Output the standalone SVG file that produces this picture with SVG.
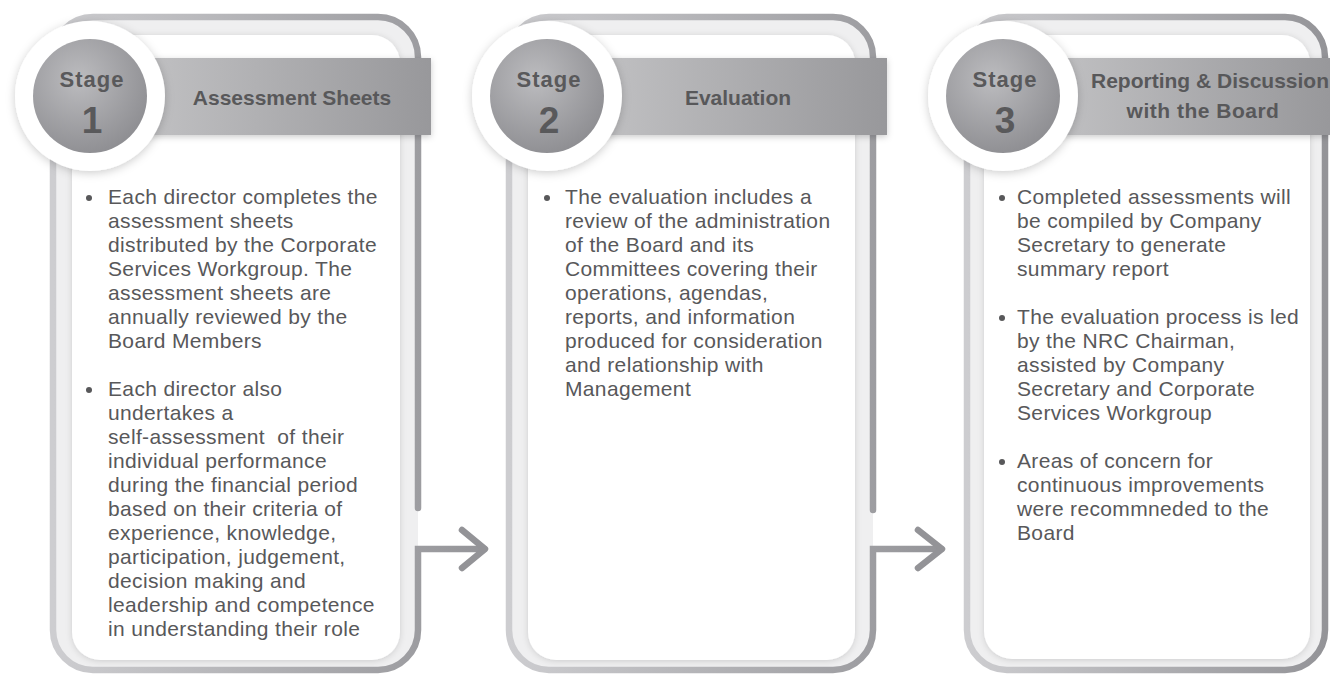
<svg xmlns="http://www.w3.org/2000/svg" width="1330" height="675" viewBox="0 0 1330 675">
  <defs>
    <linearGradient id="frameGrad" x1="0" y1="0" x2="1" y2="0">
      <stop offset="0" stop-color="#cdcdd0"/>
      <stop offset="1" stop-color="#949498"/>
    </linearGradient>
    <linearGradient id="bandGrad" x1="0" y1="0" x2="1" y2="0">
      <stop offset="0" stop-color="#c4c4c6"/>
      <stop offset="1" stop-color="#98989b"/>
    </linearGradient>
    <radialGradient id="ballGrad" cx="0.4" cy="0.35" r="0.7">
      <stop offset="0" stop-color="#bcbcbf"/>
      <stop offset="1" stop-color="#8d8d91"/>
    </radialGradient>
    <filter id="softShadow" x="-10%" y="-10%" width="120%" height="120%">
      <feDropShadow dx="0" dy="1" stdDeviation="3" flood-color="#000" flood-opacity="0.15"/>
    </filter>
    <filter id="ringShadow" x="-30%" y="-30%" width="160%" height="160%">
      <feDropShadow dx="0" dy="2" stdDeviation="5" flood-color="#000" flood-opacity="0.2"/>
    </filter>
    <filter id="bandShadow" x="-5%" y="-20%" width="110%" height="150%">
      <feDropShadow dx="0" dy="2" stdDeviation="3" flood-color="#000" flood-opacity="0.2"/>
    </filter>
  </defs>
  <style>
    .bg { fill: #efeff0; }
    .frame { fill: none; stroke: url(#frameGrad); stroke-width: 6.5; stroke-linecap: round; stroke-linejoin: miter; }
    .arrowhead { fill: none; stroke: #939397; stroke-width: 6.5; stroke-linecap: round; stroke-linejoin: round; }
    .inner { fill: #ffffff; filter: url(#softShadow); }
    .band { fill: url(#bandGrad); filter: url(#bandShadow); }
    .ring { fill: #ffffff; filter: url(#ringShadow); }
    .ball { fill: url(#ballGrad); }
    .stage { font-family: "Liberation Sans", Arial, sans-serif; font-weight: bold; font-size: 22px; fill: #59595b; text-anchor: middle; letter-spacing: 1px; }
    .num { font-family: "Liberation Sans", Arial, sans-serif; font-weight: bold; font-size: 37px; fill: #59595b; text-anchor: middle; }
    .head { font-family: "Liberation Sans", Arial, sans-serif; font-weight: bold; font-size: 21px; fill: #58585a; text-anchor: middle; }
    .body { font-family: "Liberation Sans", Arial, sans-serif; font-size: 21px; fill: #58585a; letter-spacing: 0.35px; }
    .dot { fill: #58585a; }
  </style>

  <g id="card1">
    <rect class="bg" x="53" y="17" width="365" height="653" rx="40"/>
    <rect class="inner" x="72" y="35" width="328" height="625" rx="28"/>
  </g>
  <g id="card2">
    <rect class="bg" x="509" y="17" width="364" height="653" rx="40"/>
    <rect class="inner" x="528" y="35" width="327" height="625" rx="28"/>
  </g>
  <g id="card3">
    <rect class="bg" x="967" y="17" width="358" height="653" rx="40"/>
    <rect class="inner" x="984" y="35" width="326" height="624" rx="28"/>
    <rect class="frame" x="967" y="17" width="358" height="653" rx="40"/>
  </g>

  <g id="connectors">
    <path class="frame" d="M418,508 V57 A40,40 0 0 0 378,17 H93 A40,40 0 0 0 53,57 V630 A40,40 0 0 0 93,670 H378 A40,40 0 0 0 418,630 V549 H484"/>
    <path class="arrowhead" d="M462,530 L485,549 L462,568"/>
    <path class="frame" d="M873,510 V57 A40,40 0 0 0 833,17 H549 A40,40 0 0 0 509,57 V630 A40,40 0 0 0 549,670 H833 A40,40 0 0 0 873,630 V549 H941"/>
    <path class="arrowhead" d="M918,530 L942,549 L918,568"/>
  </g>

  <g id="stage1">
    <rect class="band" x="120" y="58" width="311" height="77"/>
    <text class="head" x="292" y="105">Assessment Sheets</text>
    <circle class="ring" cx="90" cy="96" r="75"/>
    <circle class="ball" cx="90" cy="96" r="57"/>
    <text class="stage" x="92" y="87">Stage</text>
    <text class="num" x="92" y="133">1</text>
    <circle class="dot" cx="89" cy="198" r="3"/>
    <text class="body" x="108" y="204">
      <tspan x="108" y="204">Each director completes the</tspan>
      <tspan x="108" y="228">assessment sheets</tspan>
      <tspan x="108" y="252">distributed by the Corporate</tspan>
      <tspan x="108" y="276">Services Workgroup. The</tspan>
      <tspan x="108" y="300">assessment sheets are</tspan>
      <tspan x="108" y="324">annually reviewed by the</tspan>
      <tspan x="108" y="348">Board Members</tspan>
    </text>
    <circle class="dot" cx="89" cy="390" r="3"/>
    <text class="body" x="108" y="396">
      <tspan x="108" y="396">Each director also</tspan>
      <tspan x="108" y="420">undertakes a</tspan>
      <tspan x="108" y="444" xml:space="preserve">self-assessment  of their</tspan>
      <tspan x="108" y="468">individual performance</tspan>
      <tspan x="108" y="492">during the financial period</tspan>
      <tspan x="108" y="516">based on their criteria of</tspan>
      <tspan x="108" y="540">experience, knowledge,</tspan>
      <tspan x="108" y="564">participation, judgement,</tspan>
      <tspan x="108" y="588">decision making and</tspan>
      <tspan x="108" y="612">leadership and competence</tspan>
      <tspan x="108" y="636">in understanding their role</tspan>
    </text>
  </g>

  <g id="stage2">
    <rect class="band" x="575" y="58" width="312" height="77"/>
    <text class="head" x="738" y="105">Evaluation</text>
    <circle class="ring" cx="547" cy="96" r="75"/>
    <circle class="ball" cx="547" cy="96" r="57"/>
    <text class="stage" x="549" y="87">Stage</text>
    <text class="num" x="549" y="133">2</text>
    <circle class="dot" cx="547" cy="198" r="3"/>
    <text class="body" x="565" y="204">
      <tspan x="565" y="204">The evaluation includes a</tspan>
      <tspan x="565" y="228">review of the administration</tspan>
      <tspan x="565" y="252">of the Board and its</tspan>
      <tspan x="565" y="276">Committees covering their</tspan>
      <tspan x="565" y="300">operations, agendas,</tspan>
      <tspan x="565" y="324">reports, and information</tspan>
      <tspan x="565" y="348">produced for consideration</tspan>
      <tspan x="565" y="372">and relationship with</tspan>
      <tspan x="565" y="396">Management</tspan>
    </text>
  </g>

  <g id="stage3">
    <rect class="band" x="1030" y="58" width="300" height="77"/>
    <text class="head" x="1210" y="88">Reporting &amp; Discussion</text>
    <text class="head" x="1203" y="118" style="letter-spacing:0.5px">with the Board</text>
    <circle class="ring" cx="1003" cy="96" r="75"/>
    <circle class="ball" cx="1003" cy="96" r="57"/>
    <text class="stage" x="1005" y="87">Stage</text>
    <text class="num" x="1005" y="133">3</text>
    <circle class="dot" cx="1002" cy="198" r="3"/>
    <text class="body" x="1017" y="204">
      <tspan x="1017" y="204">Completed assessments will</tspan>
      <tspan x="1017" y="228">be compiled by Company</tspan>
      <tspan x="1017" y="252">Secretary to generate</tspan>
      <tspan x="1017" y="276">summary report</tspan>
    </text>
    <circle class="dot" cx="1002" cy="318" r="3"/>
    <text class="body" x="1017" y="324">
      <tspan x="1017" y="324">The evaluation process is led</tspan>
      <tspan x="1017" y="348">by the NRC Chairman,</tspan>
      <tspan x="1017" y="372">assisted by Company</tspan>
      <tspan x="1017" y="396">Secretary and Corporate</tspan>
      <tspan x="1017" y="420">Services Workgroup</tspan>
    </text>
    <circle class="dot" cx="1002" cy="462" r="3"/>
    <text class="body" x="1017" y="468">
      <tspan x="1017" y="468">Areas of concern for</tspan>
      <tspan x="1017" y="492">continuous improvements</tspan>
      <tspan x="1017" y="516">were recommneded to the</tspan>
      <tspan x="1017" y="540">Board</tspan>
    </text>
  </g>
</svg>
